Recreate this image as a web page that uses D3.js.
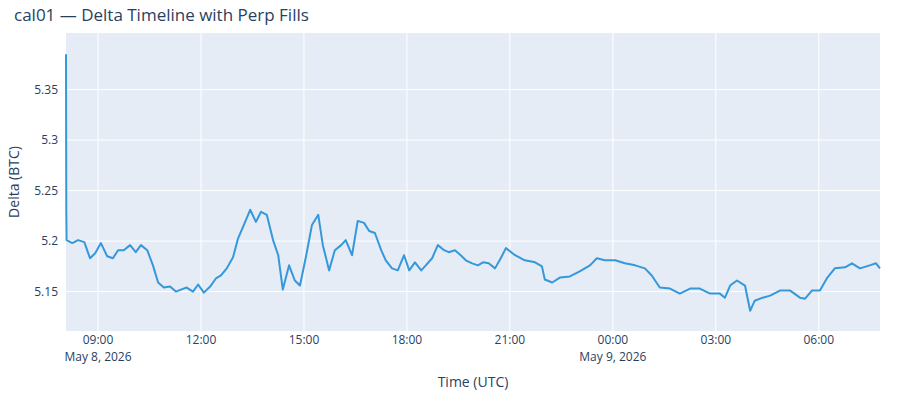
<!DOCTYPE html>
<html>
<head>
<meta charset="utf-8">
<script src="https://cdn.jsdelivr.net/npm/d3@7"></script>
<style>
  body { margin: 0; background: #fff; }
  text { font-family: "Open Sans", Verdana, Arial, sans-serif; fill: #2a3f5f; }
</style>
</head>
<body>
<div id="chart"></div>
<script>
// Times (UTC), May 8 -> May 9 2026
const times = [
  "2026-05-08T08:04:00", "2026-05-08T08:04:30", "2026-05-08T08:05", "2026-05-08T08:15", "2026-05-08T08:25",
  "2026-05-08T08:36", "2026-05-08T08:46", "2026-05-08T08:55", "2026-05-08T09:05", "2026-05-08T09:16",
  "2026-05-08T09:26", "2026-05-08T09:35", "2026-05-08T09:45", "2026-05-08T09:56", "2026-05-08T10:06",
  "2026-05-08T10:15", "2026-05-08T10:26", "2026-05-08T10:36", "2026-05-08T10:45", "2026-05-08T10:55",
  "2026-05-08T11:06", "2026-05-08T11:16", "2026-05-08T11:25", "2026-05-08T11:35", "2026-05-08T11:46",
  "2026-05-08T11:55", "2026-05-08T12:05", "2026-05-08T12:16", "2026-05-08T12:26", "2026-05-08T12:35",
  "2026-05-08T12:45", "2026-05-08T12:56", "2026-05-08T13:05", "2026-05-08T13:15", "2026-05-08T13:26",
  "2026-05-08T13:36", "2026-05-08T13:45", "2026-05-08T13:55", "2026-05-08T14:06", "2026-05-08T14:15",
  "2026-05-08T14:23", "2026-05-08T14:34", "2026-05-08T14:44", "2026-05-08T14:53", "2026-05-08T15:04",
  "2026-05-08T15:14", "2026-05-08T15:25", "2026-05-08T15:33", "2026-05-08T15:44", "2026-05-08T15:54",
  "2026-05-08T16:05", "2026-05-08T16:13", "2026-05-08T16:24", "2026-05-08T16:34", "2026-05-08T16:45",
  "2026-05-08T16:54", "2026-05-08T17:04", "2026-05-08T17:15", "2026-05-08T17:23", "2026-05-08T17:34",
  "2026-05-08T17:44", "2026-05-08T17:55", "2026-05-08T18:04", "2026-05-08T18:14", "2026-05-08T18:25",
  "2026-05-08T18:33", "2026-05-08T18:44", "2026-05-08T18:54", "2026-05-08T19:05", "2026-05-08T19:13",
  "2026-05-08T19:24", "2026-05-08T19:34", "2026-05-08T19:43", "2026-05-08T19:54", "2026-05-08T20:04",
  "2026-05-08T20:13", "2026-05-08T20:23", "2026-05-08T20:34", "2026-05-08T20:44", "2026-05-08T20:53",
  "2026-05-08T21:09", "2026-05-08T21:26", "2026-05-08T21:44", "2026-05-08T21:56", "2026-05-08T22:01",
  "2026-05-08T22:14", "2026-05-08T22:28", "2026-05-08T22:45", "2026-05-08T23:02", "2026-05-08T23:20",
  "2026-05-08T23:32", "2026-05-08T23:46", "2026-05-09T00:04", "2026-05-09T00:21", "2026-05-09T00:39",
  "2026-05-09T00:56", "2026-05-09T01:08", "2026-05-09T01:22", "2026-05-09T01:40", "2026-05-09T01:57",
  "2026-05-09T02:15", "2026-05-09T02:32", "2026-05-09T02:50", "2026-05-09T03:07", "2026-05-09T03:16",
  "2026-05-09T03:25", "2026-05-09T03:37", "2026-05-09T03:51", "2026-05-09T04:00", "2026-05-09T04:08",
  "2026-05-09T04:22", "2026-05-09T04:35", "2026-05-09T04:52", "2026-05-09T05:10", "2026-05-09T05:27",
  "2026-05-09T05:36", "2026-05-09T05:48", "2026-05-09T06:02", "2026-05-09T06:14", "2026-05-09T06:28",
  "2026-05-09T06:46", "2026-05-09T06:58", "2026-05-09T07:12", "2026-05-09T07:29", "2026-05-09T07:40",
  "2026-05-09T07:47"
];

// Delta (BTC)
const delta = [
  5.385, 5.230, 5.201, 5.198, 5.201,
  5.199, 5.183, 5.188, 5.198, 5.185,
  5.183, 5.191, 5.191, 5.196, 5.189,
  5.196, 5.191, 5.176, 5.159, 5.154,
  5.155, 5.150, 5.152, 5.154, 5.150,
  5.157, 5.149, 5.155, 5.163, 5.166,
  5.173, 5.184, 5.203, 5.216, 5.231,
  5.219, 5.229, 5.226, 5.201, 5.186,
  5.152, 5.176, 5.161, 5.156, 5.186,
  5.216, 5.226, 5.196, 5.171, 5.191,
  5.196, 5.201, 5.186, 5.220, 5.218,
  5.210, 5.208, 5.191, 5.181, 5.173,
  5.171, 5.186, 5.171, 5.179, 5.171,
  5.176, 5.183, 5.196, 5.191, 5.189,
  5.191, 5.186, 5.181, 5.178, 5.176,
  5.179, 5.178, 5.173, 5.183, 5.193,
  5.186, 5.181, 5.179, 5.175, 5.162,
  5.159, 5.164, 5.165, 5.170, 5.176,
  5.183, 5.181, 5.181, 5.178, 5.176,
  5.173, 5.166, 5.154, 5.153, 5.148,
  5.153, 5.153, 5.148, 5.148, 5.144,
  5.156, 5.161, 5.156, 5.131, 5.141,
  5.144, 5.146, 5.151, 5.151, 5.144,
  5.143, 5.151, 5.151, 5.163, 5.173,
  5.174, 5.178, 5.173, 5.176, 5.178,
  5.173
];

const yTicks = [5.15, 5.2, 5.25, 5.3, 5.35];
const yTickLabels = ["5.15", "5.2", "5.25", "5.3", "5.35"];

const width = 900, height = 400;
const margin = { top: 33, right: 20, bottom: 69, left: 66 };

const parse = d3.utcParse("%Y-%m-%dT%H:%M");
const parseS = d3.utcParse("%Y-%m-%dT%H:%M:%S");
const data = times.map((t, i) => ({ t: parse(t) || parseS(t), v: delta[i] }));

const svg = d3.select('#chart').append('svg')
    .attr('width', width)
    .attr('height', height);

const x = d3.scaleUtc()
    .domain(d3.extent(data, d => d.t))
    .range([margin.left, width - margin.right]);

const y = d3.scaleLinear()
    .domain([5.111, 5.406])
    .range([height - margin.bottom, margin.top]);

// Plot background
svg.append('rect')
    .attr('x', margin.left).attr('y', margin.top)
    .attr('width', width - margin.left - margin.right)
    .attr('height', height - margin.top - margin.bottom)
    .attr('fill', '#e5ecf6');

// Time ticks every 3 hours
const xTicks = d3.utcHour.every(3).range(data[0].t, data[data.length - 1].t);

svg.append('g')
    .selectAll('line')
    .data(xTicks)
    .enter().append('line')
    .attr('x1', d => x(d)).attr('x2', d => x(d))
    .attr('y1', margin.top).attr('y2', height - margin.bottom)
    .attr('stroke', '#fff').attr('stroke-width', 1);

svg.append('g')
    .selectAll('line')
    .data(yTicks)
    .enter().append('line')
    .attr('x1', margin.left).attr('x2', width - margin.right)
    .attr('y1', d => y(d)).attr('y2', d => y(d))
    .attr('stroke', '#fff').attr('stroke-width', 1);

// Line
const line = d3.line()
    .x(d => x(d.t))
    .y(d => y(d.v));

svg.append('path')
    .datum(data)
    .attr('fill', 'none')
    .attr('stroke', '#3498db')
    .attr('stroke-width', 2)
    .attr('stroke-linejoin', 'round')
    .attr('d', line);

// Y tick labels
svg.append('g')
    .selectAll('text')
    .data(yTicks)
    .enter().append('text')
    .attr('x', margin.left - 8)
    .attr('y', d => y(d))
    .attr('dy', '0.35em')
    .attr('text-anchor', 'end')
    .style('font-size', '12px')
    .text((d, i) => yTickLabels[i]);

// X tick labels
const fmtTime = d3.utcFormat('%H:%M');
const fmtDate = d3.utcFormat('%b %-d, %Y');
const xl = svg.append('g')
    .selectAll('g')
    .data(xTicks)
    .enter().append('g')
    .attr('transform', d => `translate(${x(d)},${height - margin.bottom + 13})`);

xl.append('text')
    .attr('text-anchor', 'middle')
    .style('font-size', '12px')
    .text(d => fmtTime(d));

xl.filter((d, i) => i === 0 || d.getUTCHours() === 0)
    .append('text')
    .attr('y', 17)
    .attr('text-anchor', 'middle')
    .style('font-size', '12px')
    .text(d => fmtDate(d));

// Axis titles
svg.append('text')
    .attr('x', margin.left + (width - margin.left - margin.right) / 2)
    .attr('y', 387)
    .attr('text-anchor', 'middle')
    .style('font-size', '14px')
    .text('Time (UTC)');

svg.append('text')
    .attr('transform', `translate(19,${margin.top + (height - margin.top - margin.bottom) / 2}) rotate(-90)`)
    .attr('text-anchor', 'middle')
    .style('font-size', '14px')
    .text('Delta (BTC)');

// Title
svg.append('text')
    .attr('x', 14)
    .attr('y', 21)
    .style('font-size', '17px')
    .text('cal01 — Delta Timeline with Perp Fills');
</script>
</body>
</html>
